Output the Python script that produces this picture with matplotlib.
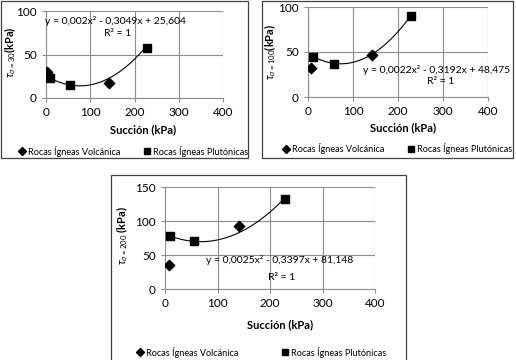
import numpy as np
import matplotlib
matplotlib.use("Agg")
import matplotlib.pyplot as plt
from matplotlib.patches import Rectangle
from matplotlib.lines import Line2D

plt.rcParams['font.family'] = ['Lato', 'DejaVu Sans']
plt.rcParams['mathtext.fontset'] = 'custom'
plt.rcParams['mathtext.rm'] = 'Lato'
plt.rcParams['mathtext.it'] = 'Lato:italic'

# ---- data ----
volc_x1 = [3, 143]
volc_y1 = [30, 17]
plut_x1 = [8, 55, 228]
plut_y1 = [23, 15, 58]
coef1 = [0.002, -0.3049, 25.604]
eq1 = "y = 0,002x² - 0,3049x + 25,604"

volc_x2 = [7, 143]
volc_y2 = [32, 47]
plut_x2 = [10, 57, 228]
plut_y2 = [45, 37, 90]
coef2 = [0.0022, -0.3192, 48.475]
eq2 = "y = 0,0022x² - 0,3192x + 48,475"

volc_x3 = [7, 140]
volc_y3 = [36, 92]
plut_x3 = [10, 55, 228]
plut_y3 = [78, 70, 133]
coef3 = [0.0025, -0.3397, 81.148]
eq3 = "y = 0,0025x² - 0,3397x + 81,148"

xticks = [0, 100, 200, 300, 400]
yticks12 = [0, 50, 100]
yticks3 = [0, 50, 100, 150]
xlabel = "Succión (kPa)"
ylabels = [r"$\tau_{\sigma=30}$(kPa)", r"$\tau_{\sigma=100}$(kPa)", r"$\tau_{\sigma=200}$ (kPa)"]
leg_labels = ["Rocas Ígneas Volcánica", "Rocas Ígneas Plutónicas"]

W, H = 516, 360
fig = plt.figure(figsize=(W / 100, H / 100), dpi=100)
fig.patch.set_facecolor('white')

def fx(px):
    return px / W

def fy(py):
    return 1 - py / H

# panel boxes
for (x0, y0, x1, y1) in [(1, 0.5, 248, 158), (262, 0.5, 513, 158), (111, 175, 406, 362)]:
    fig.patches.append(Rectangle((fx(x0), fy(y1)), fx(x1) - fx(x0), fy(y0) - fy(y1),
                                 transform=fig.transFigure, fill=False,
                                 edgecolor='#404040', linewidth=0.9))

def make_panel(rect_px, vx, vy, px_, py_, coef, ylim, yticks):
    x0, y0, x1, y1 = rect_px
    ax = fig.add_axes([fx(x0), fy(y1), fx(x1) - fx(x0), fy(y0) - fy(y1)])
    ax.set_xlim(0, 400)
    ax.set_ylim(*ylim)
    ax.set_xticks(xticks)
    ax.set_yticks(yticks)
    ax.grid(True, color='#8c8c8c', linewidth=0.8)
    ax.set_axisbelow(True)
    for s in ['top', 'right']:
        ax.spines[s].set_visible(False)
    for s in ['left', 'bottom']:
        ax.spines[s].set_color('#8c8c8c')
        ax.spines[s].set_linewidth(0.8)
    ax.tick_params(axis='both', colors='#8c8c8c', labelcolor='black', labelsize=8.5,
                   length=3, width=0.8, direction='out')
    xs = np.linspace(min(px_), max(px_), 100)
    ax.plot(xs, np.polyval(coef, xs), color='black', linewidth=0.8, zorder=2)
    ax.scatter(vx, vy, marker='D', s=28, color='black', zorder=3)
    ax.scatter(px_, py_, marker='s', s=32, color='black', zorder=3)
    ax.set_facecolor('none')
    return ax

ax1 = make_panel((46, 11, 223, 98), volc_x1, volc_y1, plut_x1, plut_y1, coef1, (0, 100), yticks12)
ax2 = make_panel((308, 7, 488, 97), volc_x2, volc_y2, plut_x2, plut_y2, coef2, (0, 100), yticks12)
ax3 = make_panel((165, 187, 375, 289), volc_x3, volc_y3, plut_x3, plut_y3, coef3, (0, 150), yticks3)

# x labels
for (cx, cy) in [(143, 130), (403, 128), (280, 325)]:
    fig.text(fx(cx), fy(cy), xlabel, ha='center', va='center', fontsize=8, fontweight='bold')

# y labels
for lab, (cx, cy) in zip(ylabels, [(10, 52), (270, 52), (122, 236)]):
    fig.text(fx(cx), fy(cy), lab, ha='center', va='center', fontsize=8,
             fontweight='bold', rotation=90)

# equations
for eq, (cx, cy), (rx, ry) in [(eq1, (115, 21), (118, 33)),
                                 (eq2, (437, 70), (441, 82)),
                                 (eq3, (280, 260), (282, 277))]:
    fig.text(fx(cx), fy(cy), eq, ha='center', va='center', fontsize=7.5)
    fig.text(fx(rx), fy(ry), "R² = 1", ha='center', va='center', fontsize=7.5)

# legends
for (dx, sx, ly) in [(22, 147, 151), (286, 411, 149), (140, 285, 352)]:
    fig.add_artist(Line2D([fx(dx)], [fy(ly)], marker='D', markersize=4.5, color='black',
                          linestyle='none', transform=fig.transFigure))
    fig.text(fx(dx + 6), fy(ly), leg_labels[0], ha='left', va='center', fontsize=6.6)
    fig.add_artist(Line2D([fx(sx)], [fy(ly)], marker='s', markersize=5, color='black',
                          linestyle='none', transform=fig.transFigure))
    fig.text(fx(sx + 6), fy(ly), leg_labels[1], ha='left', va='center', fontsize=6.6)

fig.savefig("out.png", dpi=100)
